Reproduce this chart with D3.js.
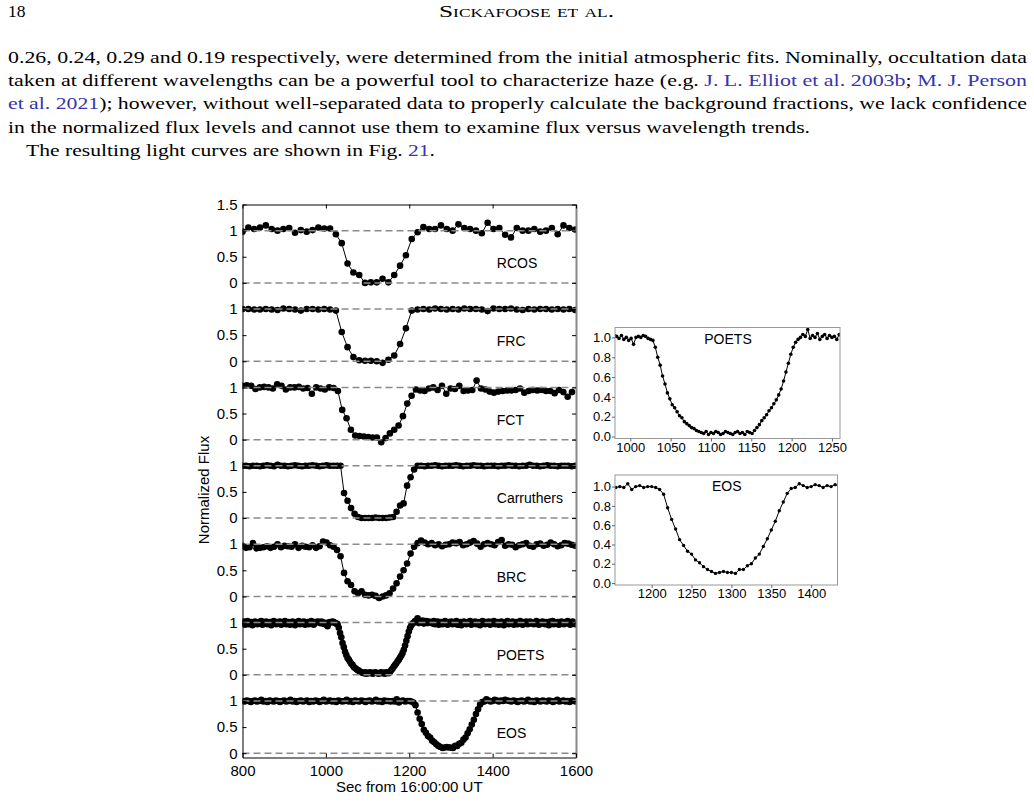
<!DOCTYPE html>
<html lang="en">
<head>
<meta charset="UTF-8">
<title>Fig. 21 light curves</title>
<script src="https://cdn.jsdelivr.net/npm/d3@7"></script>
<style>
  body { margin: 0; background: #fff; }
</style>
</head>
<body>
<script>
// stations, top panel first
var stations = ["RCOS", "FRC", "FCT", "Carruthers", "BRC", "POETS", "EOS"];
// first sample (s after 16:00:00 UT) and cadence (s) of each station
var startTimes = [800, 800, 800, 800, 800, 800, 800];
var cadences = [14, 14, 10.4, 8.4, 8.4, 3, 5];

// normalized flux
var rcosFlux = [0.98,1.06,1.03,1.06,1.10,1.03,1.00,1.03,1.05,0.96,1.01,0.98,1.01,1.06,1.04,1.04,0.93,0.76,0.37,0.20,
  0.15,0.00,0.01,0.01,0.08,0.01,0.15,0.33,0.53,0.84,0.97,1.07,1.03,1.03,1.10,1.03,1.00,1.12,1.05,1.03,
  1.00,0.95,1.15,1.03,1.05,0.92,0.87,1.05,1.00,1.00,1.03,0.98,1.00,1.05,0.93,1.10,1.05,1.02];
var frcFlux = [1.00,1.00,0.99,0.99,1.00,0.99,0.98,1.01,1.00,0.99,0.97,1.00,1.00,0.99,1.00,0.99,0.97,
  0.56,0.27,0.08,0.02,0.01,0.01,0.00,-0.03,0.03,0.11,0.33,0.63,0.97,
  0.99,1.00,0.99,1.01,1.00,0.99,1.00,0.99,1.01,1.00,1.00,0.99,0.96,1.01,1.00,1.00,1.01,0.99,0.98,1.00,
  0.99,1.00,1.00,0.99,1.00,0.99,1.00,0.98];
var fctFlux = [1.03,1.04,1.03,0.97,1.00,1.01,1.00,0.98,1.06,1.03,0.96,1.00,1.00,1.01,0.98,0.99,0.88,1.00,0.98,0.96,1.00,0.99,0.93,
  0.57,0.41,0.19,0.08,0.07,0.06,0.05,0.04,0.04,-0.05,0.03,0.12,0.19,0.27,0.45,0.69,0.84,0.96,
  0.94,0.93,0.98,1.00,0.95,1.03,0.88,0.98,0.97,1.03,0.93,0.94,0.95,1.13,0.98,0.96,0.92,0.90,0.92,0.93,
  0.94,0.94,0.95,0.98,0.90,0.93,0.95,0.94,0.95,0.93,0.93,0.89,0.95,0.91,0.82,0.91];
var carruthersFlux = [1.00,1.00,0.99,1.00,1.00,0.99,1.00,1.01,1.00,0.99,1.02,1.00,1.00,0.99,1.00,1.01,1.00,0.99,1.00,1.00,
  1.01,1.00,0.99,1.00,1.01,1.00,1.00,1.00,1.00,
  0.48,0.33,0.19,0.08,0.02,0.00,0.00,0.00,0.00,0.01,0.00,0.00,0.00,0.01,0.02,0.12,0.24,0.28,0.62,0.78,0.93,
  1.00,1.00,0.99,1.00,1.00,1.01,1.00,0.99,1.00,1.00,1.00,1.01,1.00,0.99,1.00,1.00,1.01,1.00,1.00,0.99,
  1.00,1.00,1.00,0.99,1.00,1.00,1.01,1.00,1.00,0.99,1.00,1.00,1.02,1.00,1.00,0.99,1.00,1.01,1.00,1.00,
  0.99,1.00,1.00,1.00,0.99,1.00];
var brcFlux = [0.97,0.93,0.94,1.02,0.92,0.93,0.94,0.96,0.93,0.95,1.00,0.94,0.97,0.96,0.95,1.00,0.93,0.97,0.95,0.94,
  0.98,0.93,0.96,1.05,1.03,0.98,
  0.95,0.89,0.77,0.45,0.29,0.22,0.10,0.06,0.10,0.03,0.02,0.03,0.01,-0.03,0.00,0.02,0.06,0.15,0.25,0.38,
  0.50,0.63,0.82,0.95,
  1.02,1.07,1.03,1.00,1.02,0.98,1.00,0.96,0.99,1.00,1.03,1.02,1.04,0.98,1.00,1.03,1.06,1.01,0.95,1.00,
  1.02,1.00,0.98,1.04,1.08,0.97,1.00,0.99,0.94,0.98,1.00,1.02,0.97,0.95,1.00,1.01,0.97,0.99,1.03,1.00,
  0.96,0.98,1.02,1.01,0.99,0.97];
var poetsFlux = [0.99,1.02,0.96,1.00,1.03,0.97,0.99,1.01,0.95,1.00,1.02,0.98,0.97,1.01,0.99,1.03,0.96,1.00,0.98,1.02,
  0.97,0.99,1.01,0.95,1.00,1.03,0.98,0.97,1.01,0.99,1.02,0.96,0.98,1.00,1.03,0.97,0.99,1.01,0.96,1.00,
  1.02,0.98,0.95,1.01,0.99,1.03,0.97,1.00,0.98,1.02,0.96,0.99,1.01,0.97,1.00,1.03,0.98,0.96,1.01,1.00,
  1.02,1.01,0.99,1.02,0.98,1.00,0.97,0.99,0.93,1.00,1.01,1.00,1.02,1.01,0.99,0.98,
  0.97,0.90,0.80,0.72,0.61,0.53,0.44,0.38,0.32,0.29,0.25,0.21,0.19,0.15,0.13,0.11,0.09,0.08,0.06,0.05,
  0.04,0.03,0.05,0.02,0.04,0.03,0.05,0.04,0.02,0.03,0.05,0.04,0.03,0.02,0.04,0.05,0.03,0.04,0.02,0.05,
  0.04,0.03,0.06,0.09,0.12,0.16,0.19,0.22,0.26,0.29,0.33,0.37,0.42,0.48,0.56,0.65,0.74,0.83,0.90,0.95,0.98,
  1.00,1.03,1.01,1.08,0.99,1.02,1.00,1.04,0.98,1.01,1.03,0.99,1.02,1.00,1.01,0.98,1.03,0.97,1.00,1.02,
  0.96,0.99,1.01,0.97,1.00,1.03,0.98,0.96,1.01,0.99,1.02,0.97,0.99,1.00,1.03,0.96,0.98,1.01,0.95,1.00,
  1.02,0.98,0.97,1.01,0.99,1.03,0.96,1.00,0.98,1.02,0.97,0.99,1.01,0.95,1.00,1.03,0.98,0.97,1.01,0.99,
  1.02,0.96,0.98,1.00,1.03,0.97,0.99,1.01,0.96,1.00,1.02,0.98,0.95,1.01,0.99,1.03,0.97,1.00,0.98,1.02,
  0.96,0.99,1.01,0.97,1.00,1.03,0.98,0.96,1.01,1.00,1.02,0.97,0.99,1.02,0.98,1.00,0.97,0.99,1.03,1.00,
  0.96,1.01,0.98,1.02,0.99,0.97,1.01,1.00,0.95,1.02,0.99,1.03,0.97,1.00,0.98,1.01,0.96,0.99,1.02,1.00,
  0.97,1.01,0.99,1.03,0.98,0.96,1.00,1.02,0.99,0.97];
var eosFlux = [1.00,0.99,1.01,1.00,0.98,1.00,1.01,0.99,1.00,1.02,0.99,1.00,0.98,1.01,1.00,0.99,1.01,1.00,0.98,1.00,
  1.01,0.99,1.00,1.02,0.99,1.00,0.98,1.00,1.01,0.99,1.00,1.01,0.98,1.00,0.99,1.01,1.00,0.98,1.00,1.02,
  0.99,1.00,1.01,0.99,1.00,0.98,1.01,1.00,0.99,1.00,1.02,0.99,1.00,0.98,1.01,1.00,0.99,1.01,1.00,0.98,
  1.00,1.01,0.99,1.00,1.02,0.99,1.00,0.98,1.01,1.00,1.00,0.99,1.00,0.99,1.03,0.97,1.00,1.01,0.99,1.00,
  1.00,0.99,0.97,
  0.92,0.78,0.66,0.56,0.45,0.39,0.33,0.30,0.24,0.21,0.17,0.14,0.12,0.10,0.11,0.12,0.11,0.11,0.10,0.14,
  0.14,0.18,0.20,0.26,0.30,0.38,0.46,0.55,0.64,0.75,0.84,0.93,0.98,
  0.99,1.03,1.01,0.99,1.00,1.02,1.01,0.99,1.01,1.00,1.02,1.01,1.00,0.99,1.01,1.00,0.98,1.00,1.01,0.99,
  1.00,1.02,0.99,1.00,0.98,1.01,1.00,0.99,1.01,1.00,0.99,1.01,1.00,0.98,1.00,1.02,0.99,1.00,1.01,0.99,
  1.00,0.98,1.01,1.00,0.99];
var fluxes = [rcosFlux, frcFlux, fctFlux, carruthersFlux, brcFlux, poetsFlux, eosFlux];

// tick labels
var mainTicksX = [800, 1000, 1200, 1400, 1600];
var panelTicks = [1, 0.5, 0];
var poetsTicksX = [1000, 1050, 1100, 1150, 1200, 1250];
var eosTicksX = [1200, 1250, 1300, 1350, 1400];
var insetTicksY = [0, 0.2, 0.4, 0.6, 0.8, 1.0];

// page text around the figure: [text, is link]
var textLines = [
  [["0.26, 0.24, 0.29 and 0.19 respectively, were determined from the initial atmospheric fits. Nominally, occultation data", false]],
  [["taken at different wavelengths can be a powerful tool to characterize haze (e.g. ", false], ["J. L. Elliot et al. 2003b", true], ["; ", false], ["M. J. Person", true]],
  [["et al. 2021", true], ["); however, without well-separated data to properly calculate the background fractions, we lack confidence", false]],
  [["in the normalized flux levels and cannot use them to examine flux versus wavelength trends.", false]],
  [["The resulting light curves are shown in Fig. ", false], ["21", true], [".", false]]
];

// build {t, f} points of one station
function getPoints(k) {
  return fluxes[k].map(function (f, i) {
    return { t: startTimes[k] + i * cadences[k], f: f };
  });
}

var W = 1034, H = 803;
var svg = d3.select("body").append("svg")
  .attr("width", W).attr("height", H)
  .style("background", "#fff");

var serif = "'Liberation Serif', 'Times New Roman', serif";
var sans = "'Liberation Sans', Arial, Helvetica, sans-serif";
var linkColor = "#3535ad";

// ---- page header and paragraph ----
svg.append("text").attr("x", 8).attr("y", 17)
  .attr("font-family", serif).attr("font-size", 17.5).text("18");
svg.append("text").attr("x", 439).attr("y", 17)
  .attr("font-family", serif).attr("font-size", 17.5)
  .style("font-variant", "small-caps")
  .attr("textLength", 175).attr("lengthAdjust", "spacingAndGlyphs")
  .text("Sickafoose et al.");

var lineX = [8, 8, 8, 8, 26];
var lineW = [1019, 1019, 1019, 802, 409];
textLines.forEach(function (segs, i) {
  var t = svg.append("text")
    .attr("x", lineX[i]).attr("y", 63 + i * 23.2)
    .attr("font-family", serif).attr("font-size", 17.5)
    .attr("textLength", lineW[i]).attr("lengthAdjust", "spacingAndGlyphs")
    .attr("xml:space", "preserve");
  segs.forEach(function (s) {
    t.append("tspan").attr("fill", s[1] ? linkColor : "#000").text(s[0]);
  });
});

// ---- main stacked panel ----
var plot = { left: 242.5, right: 576, top: 204.5, bottom: 757.5 };
var scaleX = d3.scaleLinear().domain([800, 1600]).range([plot.left, plot.right]);
// each panel is shifted down by 1.5 flux units
var shift = 1.5;
var scaleY = d3.scaleLinear()
  .domain([-shift * (stations.length - 1) - 0.082, 1.5])
  .range([plot.bottom, plot.top]);

svg.append("clipPath").attr("id", "clipMain")
  .append("rect")
  .attr("x", plot.left).attr("y", plot.top)
  .attr("width", plot.right - plot.left).attr("height", plot.bottom - plot.top);

var mainG = svg.append("g").attr("clip-path", "url(#clipMain)");

stations.forEach(function (name, k) {
  var off = -shift * k;
  var pts = getPoints(k);
  var line = d3.line()
    .x(function (d) { return scaleX(d.t); })
    .y(function (d) { return scaleY(d.f + off); });
  mainG.append("path").datum(pts)
    .attr("d", line).attr("fill", "none")
    .attr("stroke", "#000").attr("stroke-width", 1);
  mainG.append("g").selectAll("circle")
    .data(pts).enter().append("circle")
    .attr("cx", function (d) { return scaleX(d.t); })
    .attr("cy", function (d) { return scaleY(d.f + off); })
    .attr("r", 3.3)
    .attr("fill", "#000");
});

// dashed reference lines at 0 and 1, drawn over the data
stations.forEach(function (name, k) {
  [0, 1].forEach(function (v) {
    svg.append("line")
      .attr("x1", plot.left).attr("x2", plot.right)
      .attr("y1", scaleY(v - shift * k)).attr("y2", scaleY(v - shift * k))
      .attr("stroke", "#8a8a8a").attr("stroke-width", 1.5)
      .attr("stroke-dasharray", "7,4");
  });
});

// panel names
stations.forEach(function (name, k) {
  svg.append("text")
    .attr("x", scaleX(1410)).attr("y", scaleY(0.38 - shift * k))
    .attr("dominant-baseline", "central")
    .attr("font-family", sans).attr("font-size", 14)
    .text(name);
});

// y ticks: 1.5 at the top, then 1, 0.5, 0 of every panel
var yTickVals = [1.5], yTickText = ["1.5"];
stations.forEach(function (name, k) {
  panelTicks.forEach(function (v) {
    yTickVals.push(v - shift * k);
    yTickText.push(String(v));
  });
});

function styleAxis(g, size) {
  g.attr("font-family", sans).attr("font-size", size);
  g.selectAll("text").attr("fill", "#000");
}

var axisL = d3.axisLeft(scaleY).tickValues(yTickVals)
  .tickFormat(function (d, i) { return yTickText[i]; })
  .tickSizeInner(-4).tickSizeOuter(0).tickPadding(5);
svg.append("g").attr("transform", "translate(" + plot.left + ",0)")
  .call(axisL).call(styleAxis, 15);

var axisR = d3.axisRight(scaleY).tickValues(yTickVals)
  .tickFormat("").tickSizeInner(-4).tickSizeOuter(0);
var gR = svg.append("g").attr("transform", "translate(" + plot.right + ",0)").call(axisR);
gR.select(".domain").attr("stroke", "#888").attr("stroke-width", 2);

var axisB = d3.axisBottom(scaleX).tickValues(mainTicksX)
  .tickFormat(d3.format("d"))
  .tickSizeInner(-4).tickSizeOuter(0).tickPadding(8);
svg.append("g").attr("transform", "translate(0," + plot.bottom + ")")
  .call(axisB).call(styleAxis, 15);

var axisT = d3.axisTop(scaleX).tickValues(mainTicksX)
  .tickFormat("").tickSizeInner(-4).tickSizeOuter(0);
svg.append("g").attr("transform", "translate(0," + plot.top + ")").call(axisT);

svg.append("text")
  .attr("x", (plot.left + plot.right) / 2).attr("y", 792)
  .attr("text-anchor", "middle")
  .attr("font-family", sans).attr("font-size", 15)
  .text("Sec from 16:00:00 UT");

svg.append("text")
  .attr("transform", "translate(203,490) rotate(-90)")
  .attr("text-anchor", "middle").attr("dominant-baseline", "central")
  .attr("font-family", sans).attr("font-size", 15)
  .text("Normalized Flux");

// ---- zoomed insets ----
function drawInset(k, box, xDomain, yDomain, ticksX, r, withLine) {
  var sx = d3.scaleLinear().domain(xDomain).range([box.left, box.right]);
  var sy = d3.scaleLinear().domain(yDomain).range([box.bottom, box.top]);
  var id = "clipInset" + k;
  svg.append("clipPath").attr("id", id).append("rect")
    .attr("x", box.left).attr("y", box.top)
    .attr("width", box.right - box.left).attr("height", box.bottom - box.top);

  var pts = getPoints(k).filter(function (d) {
    return d.t >= xDomain[0] - 10 && d.t <= xDomain[1] + 10;
  });
  var g = svg.append("g").attr("clip-path", "url(#" + id + ")");
  if (withLine) {
    g.append("path").datum(pts)
      .attr("d", d3.line().x(function (d) { return sx(d.t); }).y(function (d) { return sy(d.f); }))
      .attr("fill", "none").attr("stroke", "#000").attr("stroke-width", 1);
  }
  g.selectAll("circle").data(pts).enter().append("circle")
    .attr("cx", function (d) { return sx(d.t); })
    .attr("cy", function (d) { return sy(d.f); })
    .attr("r", r).attr("fill", "#000");

  svg.append("rect")
    .attr("x", box.left).attr("y", box.top)
    .attr("width", box.right - box.left).attr("height", box.bottom - box.top)
    .attr("fill", "none").attr("stroke", "#999").attr("stroke-width", 1);

  var gl = svg.append("g").attr("transform", "translate(" + box.left + ",0)")
    .call(d3.axisLeft(sy).tickValues(insetTicksY).tickFormat(d3.format(".1f"))
      .tickSizeInner(3).tickSizeOuter(0).tickPadding(1))
    .call(styleAxis, 13);
  gl.select(".domain").remove();
  gl.selectAll("line").attr("stroke", "#666");

  var gb = svg.append("g").attr("transform", "translate(0," + box.bottom + ")")
    .call(d3.axisBottom(sx).tickValues(ticksX).tickFormat(d3.format("d"))
      .tickSizeInner(3).tickSizeOuter(0).tickPadding(1))
    .call(styleAxis, 13);
  gb.select(".domain").remove();
  gb.selectAll("line").attr("stroke", "#666");

  svg.append("text")
    .attr("x", (box.left + box.right) / 2 + 0.5).attr("y", box.top + 11)
    .attr("text-anchor", "middle").attr("dominant-baseline", "central")
    .attr("font-family", sans).attr("font-size", 14)
    .text(stations[k]);
}

drawInset(5, { left: 615, right: 840, top: 327.5, bottom: 438.5 },
  [981, 1260], [-0.02, 1.1], poetsTicksX, 1.8, true);
drawInset(6, { left: 615, right: 837.5, top: 475, bottom: 585 },
  [1154, 1433], [-0.02, 1.12], eosTicksX, 1.7, true);
</script>
</body>
</html>
